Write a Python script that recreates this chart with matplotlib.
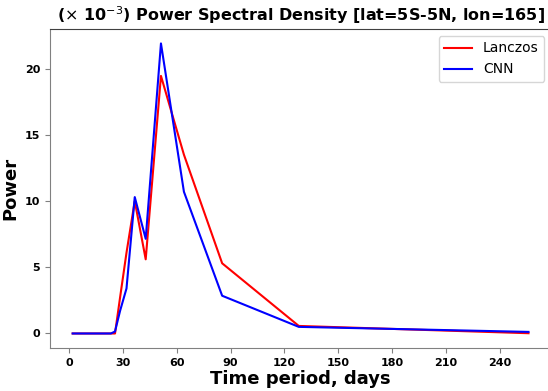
import matplotlib
matplotlib.use('Agg')
import matplotlib.pyplot as plt

# Spectral periods (days) and power (x 1e-3)
period = [2.0, 23.3, 25.6, 28.4, 32.0, 36.6, 42.7, 51.2, 64.0, 85.3, 128.0, 256.0]
lanczos = [0.0, 0.0, 0.0, 2.7, 6.1, 10.0, 5.6, 19.45, 13.5, 5.3, 0.57, 0.02]
cnn = [0.0, 0.0, 0.15, 1.7, 3.4, 10.3, 7.15, 21.9, 10.7, 2.85, 0.5, 0.12]

fig = plt.figure(figsize=(5.48, 3.91), dpi=100)
# axes run slightly past the right edge, as in the cropped original
ax = fig.add_axes([0.091, 0.110, 0.915, 0.816])

ax.plot(period, lanczos, color='red', lw=1.5, label='Lanczos')
ax.plot(period, cnn, color='blue', lw=1.5, label='CNN')

ax.set_xticks([0, 30, 60, 90, 120, 150, 180, 210, 240])
ax.set_yticks([0, 5, 10, 15, 20])
for lab in ax.get_xticklabels() + ax.get_yticklabels():
    lab.set_fontweight('bold')
ax.tick_params(labelsize=8, color='#808080')
for sp in ax.spines.values():
    sp.set_color('#808080')
ax.spines['top'].set_color('#404040')

ax.set_xlabel('Time period, days', fontsize=13, fontweight='bold', labelpad=2)
ax.set_ylabel('Power', fontsize=13, fontweight='bold')
ax.set_title(r'($\times$ 10$^{-3}$) Power Spectral Density [lat=5S-5N, lon=165]',
             fontsize=11.5, fontweight='bold')
ax.legend(loc='upper right', fontsize=10)

fig.savefig('out.png', dpi=100)
